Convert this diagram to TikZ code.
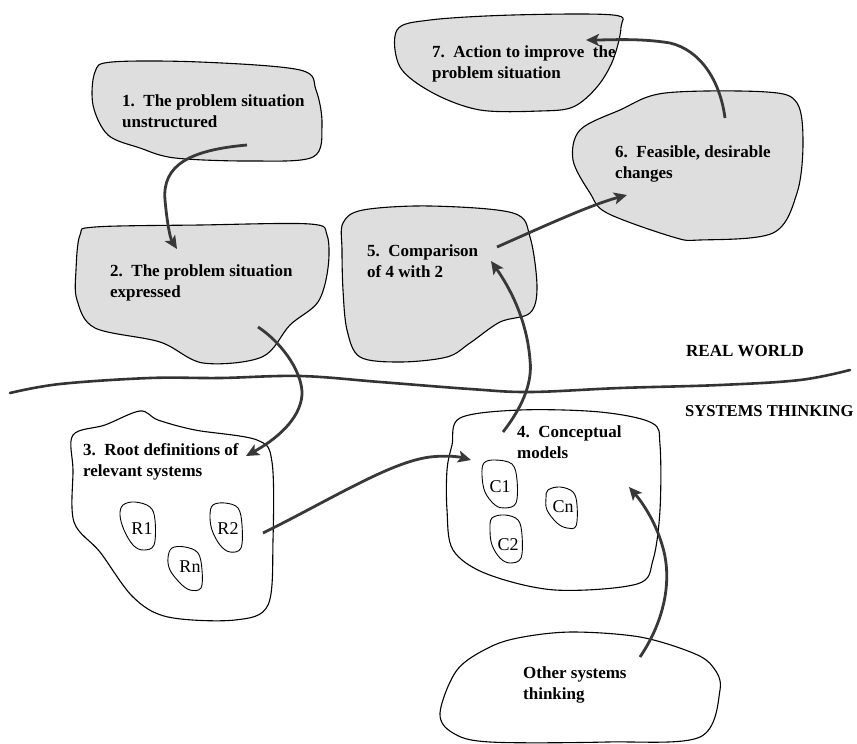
\documentclass[tikz,border=0pt]{standalone}
\usepackage{fontspec}
\setmainfont{Liberation Serif}
\usetikzlibrary{arrows.meta}
\begin{document}
\begin{tikzpicture}[x=1pt,y=-1pt,
  blob/.style={draw=black,line width=1.1pt,fill=black!13},
  wblob/.style={draw=black,line width=1.1pt,fill=white},
  sblob/.style={draw=black,line width=0.9pt},
  lbl/.style={font=\bfseries\fontsize{17}{21}\selectfont,align=left,inner sep=0pt,anchor=north west},
  slbl/.style={font=\fontsize{18}{21}\selectfont,inner sep=0pt},
  arr/.style={line width=2.8pt,draw=black!78,-{Stealth[length=13pt,width=12pt,inset=3pt]}},
  divider/.style={line width=2.6pt,draw=black!80,line cap=round},
]
\useasboundingbox (0,0) rectangle (857,744);

% ---- blobs ----
\draw[blob] plot[smooth cycle,tension=0.55] coordinates {(95,72) (112,62) (200,62) (300,70) (316,90) (322,125) (313,157) (250,161) (175,158) (140,148) (108,135) (93,105)};
\draw[blob] plot[smooth cycle,tension=0.55] coordinates {(80,235) (95,227) (200,225) (310,224) (327,235) (328,268) (318,302) (290,325) (262,357) (203,363) (160,342) (95,328) (77,300) (76,270)};
\draw[blob] plot[smooth cycle,tension=0.55] coordinates {(343,223) (363,210) (430,206) (513,213) (530,237) (537,287) (530,313) (500,322) (470,343) (447,357) (400,362) (360,357) (347,330) (343,290) (342,250)};
\draw[blob] plot[smooth cycle,tension=0.55] coordinates {(580,130) (620,110) (665,93) (767,92) (797,103) (803,143) (797,193) (773,233) (700,240) (673,237) (607,213) (590,193) (573,160)};
\draw[blob] plot[smooth cycle,tension=0.55] coordinates {(397,30) (430,20) (513,15) (613,15) (621,27) (613,60) (597,87) (573,107) (540,111) (480,110) (433,93) (400,67)};
\draw[wblob] plot[smooth cycle,tension=0.55] coordinates {(73,435) (105,425) (140,411) (158,420) (195,430) (257,440) (272,462) (273,540) (268,605) (235,620) (168,617) (133,597) (100,552) (74,522) (73,470)};
\draw[wblob] plot[smooth cycle,tension=0.55] coordinates {(452,445) (460,418) (520,410) (600,412) (652,423) (660,445) (660,510) (653,560) (637,584) (555,590) (487,574) (453,550) (447,510) (447,470)};
\draw[wblob] plot[smooth cycle,tension=0.55] coordinates {(490,647) (523,637) (573,632) (640,637) (693,653) (713,667) (720,690) (700,737) (607,742) (490,742) (453,733) (440,713) (457,670)};

% small blobs
\draw[sblob] plot[smooth cycle,tension=0.6] coordinates {(123,505) (135,502) (150,507) (155,520) (154,545) (143,550) (133,545) (124,530) (120,515)};
\draw[sblob] plot[smooth cycle,tension=0.6] coordinates {(213,505) (225,503) (238,508) (242,525) (241,548) (230,552) (220,545) (212,530) (210,515)};
\draw[sblob] plot[smooth cycle,tension=0.6] coordinates {(172,548) (185,547) (198,553) (202,570) (201,588) (190,590) (180,583) (170,570) (168,558)};
\draw[sblob] plot[smooth cycle,tension=0.6] coordinates {(484,463) (495,460) (512,464) (517,480) (516,503) (505,508) (495,505) (485,492) (482,475)};
\draw[sblob] plot[smooth cycle,tension=0.6] coordinates {(548,490) (560,487) (573,492) (577,505) (576,526) (567,528) (557,523) (547,510) (546,498)};
\draw[sblob] plot[smooth cycle,tension=0.6] coordinates {(492,518) (505,515) (518,520) (522,535) (521,558) (510,563) (500,558) (492,545) (490,530)};

% ---- texts ----
\node[lbl] (t1) at (122,94.5) {1.\ \ The problem situation\\unstructured};
\node[lbl] (t2) at (110,264.5) {2.\ \ The problem situation\\expressed};
\node[lbl] (t3) at (83,443.5) {3.\ \ Root definitions of\\relevant systems};
\node[lbl] (t4) at (517,425.5) {4.\ \ Conceptual\\models};
\node[lbl] (t5) at (367,244.5) {5.\ \ Comparison\\of 4 with 2};
\node[lbl] (t6) at (615,145.5) {6.\ \ Feasible, desirable\\changes};
\node[lbl] (t7) at (432,45.5) {7.\ \ Action to improve\ \ the\\problem situation};
\node[lbl] (t8) at (523,666.5) {Other systems\\thinking};
\node[lbl] (rw) at (686,345.5) {REAL WORLD};
\node[lbl,font=\bfseries\fontsize{16.6}{21}\selectfont] (st) at (685,405.8) {SYSTEMS THINKING};

\node[slbl] (r1) at (142,529) {R1};
\node[slbl] (r2) at (228,529) {R2};
\node[slbl] (rn) at (190,567) {Rn};
\node[slbl] (c1) at (500,487) {C1};
\node[slbl] (cn) at (563,507) {Cn};
\node[slbl] (c2) at (508,545) {C2};

% ---- divider ----
\draw[divider] plot[smooth,tension=0.6] coordinates {(10,393) (60,384) (150,378) (220,378) (300,376) (380,382) (470,389) (530,392) (620,388) (720,385) (800,380) (850,370)};

% ---- connectors ----
\coordinate (a1s) at (247,145); \coordinate (a1e) at (177,249);
\coordinate (a2s) at (258,327); \coordinate (a2e) at (246,456);
\coordinate (a3s) at (263,533); \coordinate (a3e) at (471,460);
\coordinate (a4s) at (640,657); \coordinate (a4e) at (629,487);
\coordinate (a5s) at (503,432); \coordinate (a5e) at (491,261);
\coordinate (a6s) at (497,247); \coordinate (a6e) at (627,195);
\coordinate (a7s) at (725,118); \coordinate (a7e) at (586,40);

\draw[arr] (a1s) .. controls (190,150) and (162,165) .. (165,200) .. controls (167,222) and (170,238) .. (a1e);
\draw[arr] (a2s) .. controls (285,345) and (303,375) .. (302,395) .. controls (300,420) and (275,440) .. (a2e);
\draw[arr] (a3s) .. controls (330,500) and (390,462) .. (430,457) .. controls (448,455) and (460,457) .. (a3e);
\draw[arr] (a4s) .. controls (665,620) and (672,580) .. (663,548) .. controls (656,522) and (642,502) .. (a4e);
\draw[arr] (a5s) .. controls (520,410) and (533,385) .. (530,360) .. controls (527,320) and (510,288) .. (a5e);
\draw[arr] (a6s) .. controls (540,228) and (590,205) .. (a6e);
\draw[arr] (a7s) .. controls (720,80) and (700,50) .. (670,43) .. controls (640,38) and (610,40) .. (a7e);
\end{tikzpicture}
\end{document}
